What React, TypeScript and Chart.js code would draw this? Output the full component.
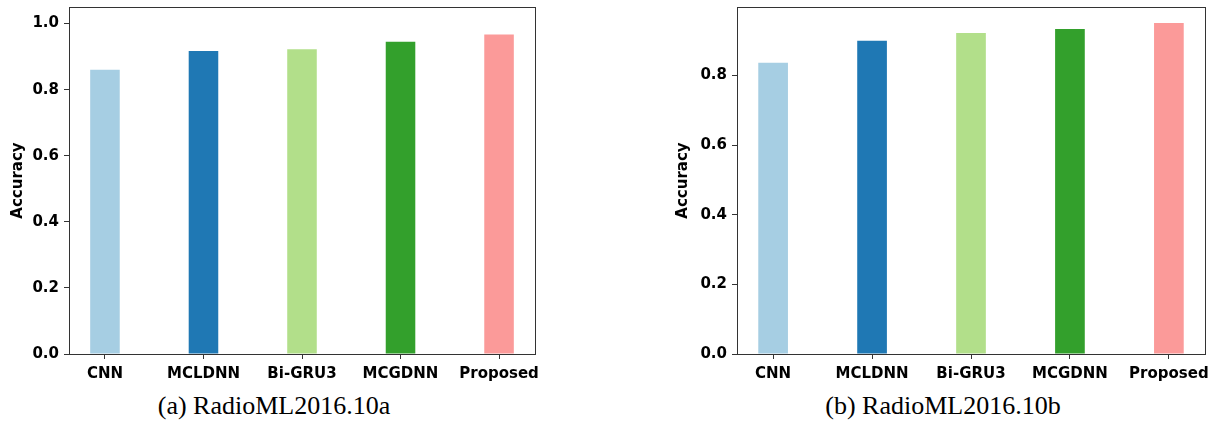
import React, { useEffect, useRef } from "react";
import { Chart, registerables } from "chart.js";

Chart.register(...registerables);

const categories = ["CNN", "MCLDNN", "Bi-GRU3", "MCGDNN", "Proposed"];
const accuracyA = [0.86, 0.917, 0.922, 0.945, 0.967];
const accuracyB = [0.837, 0.9, 0.922, 0.934, 0.951];
const barColors = ["#a6cee3", "#1f78b4", "#b2df8a", "#33a02c", "#fb9a99"];
const yMaxA = 1.05;
const yMaxB = 0.997;
const captionA = "(a) RadioML2016.10a";
const captionB = "(b) RadioML2016.10b";
const yTitle = "Accuracy";

const frame = {
  id: "frame",
  afterDraw(chart: any) {
    const { ctx, chartArea: a } = chart;
    ctx.save();
    ctx.strokeStyle = "#333";
    ctx.lineWidth = 1;
    ctx.strokeRect(Math.round(a.left) + 0.5, Math.round(a.top) + 0.5, Math.round(a.right - a.left), Math.round(a.bottom - a.top));
    ctx.restore();
  },
};

const tickFont = { family: "'DejaVu Sans'", weight: "bold" as const, size: 15 };

function BarPanel({
  values,
  yMax,
  width,
  height,
  titlePad,
}: {
  values: number[];
  yMax: number;
  width: number;
  height: number;
  titlePad: number;
}) {
  const ref = useRef<HTMLCanvasElement>(null);
  useEffect(() => {
    if (!ref.current) return;
    const chart = new Chart(ref.current, {
      type: "bar",
      data: {
        datasets: [
          {
            data: values.map((v, i) => ({ x: i, y: v })),
            backgroundColor: barColors,
            borderWidth: 0,
            barPercentage: 0.3,
            categoryPercentage: 1,
          },
        ],
      },
      options: {
        responsive: false,
        animation: false,
        layout: { padding: { top: 7, right: 8, left: 0, bottom: 0 } },
        plugins: { legend: { display: false }, tooltip: { enabled: false } },
        scales: {
          x: {
            type: "linear",
            offset: false,
            min: -0.365,
            max: 4.365,
            afterBuildTicks: (scale: any) => {
              scale.ticks = categories.map((_, i) => ({ value: i }));
            },
            afterFit: (scale: any) => {
              scale.height = 35;
              scale.paddingLeft = 0;
              scale.paddingRight = 0;
              scale.paddingTop = 0;
              scale.paddingBottom = 0;
            },
            ticks: {
              callback: (v: any) => categories[Math.round(Number(v))] ?? "",
              font: tickFont,
              color: "#000",
              padding: 6,
              maxRotation: 0,
              autoSkip: false,
            },
            grid: { display: true, offset: false, drawOnChartArea: false, drawTicks: true, tickLength: 5, color: "#333" },
            border: { display: true, color: "#333", width: 1 },
          },
          y: {
            type: "linear",
            min: 0,
            max: yMax,
            afterFit: (scale: any) => {
              scale.width = 69;
              scale.paddingLeft = 0;
              scale.paddingRight = 0;
              scale.paddingTop = 0;
              scale.paddingBottom = 0;
            },
            ticks: {
              stepSize: 0.2,
              includeBounds: false,
              callback: (v: any) => Number(v).toFixed(1),
              font: tickFont,
              color: "#000",
              padding: 5,
            },
            title: {
              display: true,
              text: yTitle,
              font: tickFont,
              color: "#000",
              padding: { top: titlePad, bottom: 4 },
            },
            grid: { display: true, drawOnChartArea: false, drawTicks: true, tickLength: 5, color: "#333" },
            border: { display: true, color: "#333", width: 1 },
          },
        },
      },
      plugins: [frame],
    } as any);
    return () => chart.destroy();
  }, [values, yMax, titlePad]);
  return <canvas ref={ref} width={width} height={height} style={{ width, height, display: "block" }} />;
}

const captionStyle: React.CSSProperties = {
  position: "absolute",
  top: 391,
  width: 400,
  textAlign: "center",
  fontFamily: "'Liberation Serif', 'Times New Roman', serif",
  fontSize: 26,
  lineHeight: "30px",
  color: "#000",
  whiteSpace: "nowrap",
};

export default function App() {
  return (
    <div style={{ position: "fixed", left: 0, top: 0, width: 1218, height: 426, background: "#fff", overflow: "hidden" }}>
      <div style={{ position: "absolute", left: 0, top: 0 }}>
        <BarPanel values={accuracyA} yMax={yMaxA} width={543} height={389} titlePad={9.3} />
      </div>
      <div style={{ position: "absolute", left: 668, top: 0 }}>
        <BarPanel values={accuracyB} yMax={yMaxB} width={545} height={389} titlePad={6.3} />
      </div>
      <div style={{ ...captionStyle, left: 274 - 200 }}>{captionA}</div>
      <div style={{ ...captionStyle, left: 943 - 200 }}>{captionB}</div>
    </div>
  );
}
